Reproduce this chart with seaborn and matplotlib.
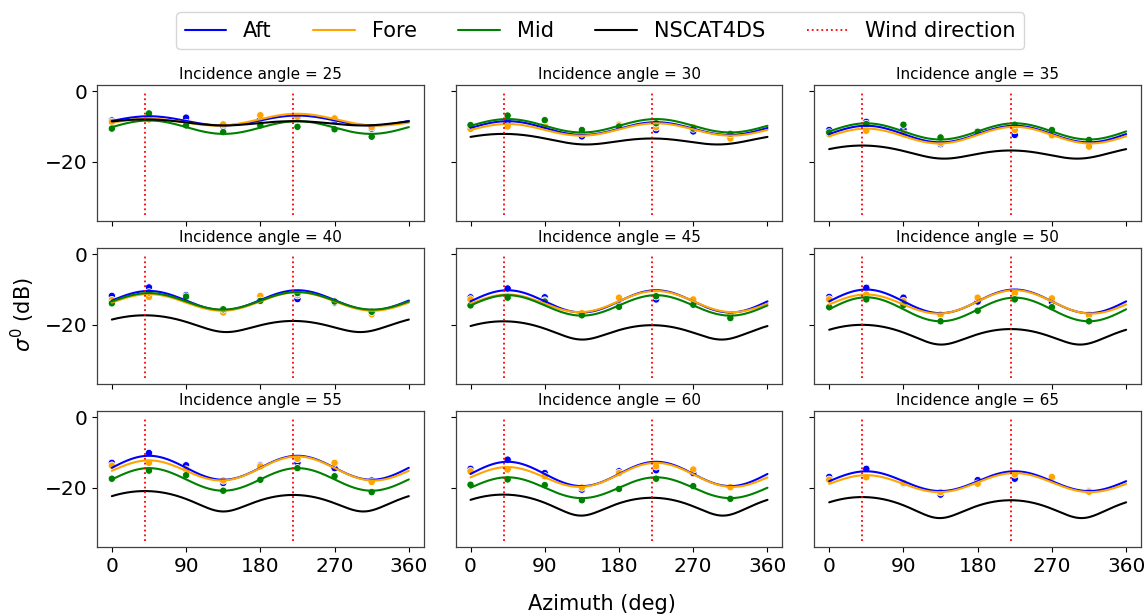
import numpy as np
import pandas as pd
import matplotlib
matplotlib.use("Agg")
import matplotlib.pyplot as plt
from matplotlib.lines import Line2D
import seaborn as sns

# ---------------------------------------------------------------- data
incidence = [25, 30, 35, 40, 45, 50, 55, 60, 65]
azimuth_obs = [0, 45, 90, 135, 180, 225, 270, 315]
wind_direction = [40, 220]

# measured sigma0 (dB) per incidence angle at the azimuths above
aft_obs = [
    [-8.3, -7.4, -7.5, -9.9, -7.8, -7.6, -8.2, -10.6],
    [-10.4, -8.5, -9.3, -12.8, -9.8, -11.0, -11.4, -12.6],
    [-11.0, -8.7, -10.8, -15.0, -11.4, -12.4, -12.3, -14.6],
    [-11.8, -9.4, -11.6, -16.0, -12.8, -12.7, -13.7, -16.4],
    [-12.2, -9.7, -12.2, -17.1, -14.5, -12.8, -14.1, -17.1],
    [-12.1, -9.5, -12.3, -17.3, -13.4, -10.9, -13.6, -17.1],
    [-12.9, -10.1, -13.6, -18.6, -13.6, -12.9, -14.4, -17.9],
    [-14.6, -12.0, -15.8, -20.5, -15.3, -15.0, -15.8, -19.8],
    [-16.9, -14.6, -18.8, -21.9, -17.8, -17.4, -17.2, -20.9],
]
fore_obs = [
    [-8.7, -8.0, -9.0, -9.4, -6.8, -7.3, -7.7, -10.2],
    [-10.7, -10.0, -9.9, -12.0, -9.5, -10.2, -10.2, -13.4],
    [-12.2, -11.2, -12.0, -14.6, -11.3, -11.0, -12.5, -15.7],
    [-13.0, -12.1, -12.5, -16.5, -11.8, -11.6, -13.2, -17.0],
    [-12.8, -11.9, -13.1, -16.7, -12.3, -11.6, -12.8, -17.3],
    [-12.8, -11.4, -13.3, -17.1, -12.3, -11.1, -12.5, -17.3],
    [-13.7, -12.9, -14.8, -17.9, -13.9, -11.8, -12.9, -18.3],
    [-15.3, -14.8, -16.7, -19.9, -15.8, -13.9, -14.8, -19.8],
    [-17.7, -17.0, -18.6, -21.2, -18.8, -16.2, -16.9, -21.1],
]
mid_obs = [
    [-10.6, -6.3, -9.7, -11.6, -9.7, -10.1, -10.8, -12.9],
    [-9.6, -6.9, -8.2, -11.0, -10.0, -9.1, -10.6, -12.1],
    [-11.7, -9.3, -9.5, -13.1, -11.5, -9.5, -11.0, -13.8],
    [-13.9, -10.8, -12.0, -15.6, -13.2, -11.0, -13.4, -16.3],
    [-14.5, -12.3, -13.4, -17.3, -14.9, -11.9, -14.3, -18.1],
    [-15.0, -12.8, -14.4, -19.0, -16.0, -12.8, -15.0, -19.0],
    [-17.4, -15.1, -16.4, -20.8, -17.7, -14.4, -16.7, -21.2],
    [-19.1, -17.6, -19.2, -23.5, -20.3, -17.4, -19.5, -23.1],
    None,
]

# harmonic fits: (upwind, downwind, crosswind) levels in dB
aft_fit = [(-7.1, -6.9, -9.7), (-8.5, -8.8, -12.4), (-9.8, -9.8, -14.5),
           (-10.4, -10.2, -15.8), (-10.2, -10.2, -16.5), (-10.0, -10.0, -16.7),
           (-10.9, -10.9, -17.7), (-12.6, -12.6, -19.5), (-15.3, -15.3, -20.9)]
fore_fit = [(-7.8, -6.4, -9.7), (-9.3, -9.1, -12.6), (-10.6, -10.1, -14.8),
            (-11.3, -10.8, -16.0), (-11.4, -10.4, -16.4), (-11.4, -10.2, -16.8),
            (-12.2, -11.1, -17.9), (-14.1, -12.9, -19.7), (-16.4, -15.8, -21.2)]
mid_fit = [(-8.3, -8.5, -12.1), (-7.9, -7.9, -11.7), (-9.1, -9.1, -13.7),
           (-11.0, -10.7, -15.7), (-11.6, -11.6, -17.4), (-12.2, -12.3, -19.0),
           (-14.4, -14.4, -20.8), (-17.0, -17.0, -22.9), None]
fit_phase = 45

# NSCAT4DS model: (upwind, downwind, crosswind) levels in dB
nscat_levels = [(-8.0, -8.5, -9.7), (-12.1, -13.4, -15.0), (-15.4, -16.8, -19.0),
                (-17.3, -18.9, -21.9), (-19.0, -20.1, -24.1), (-20.0, -21.2, -25.5),
                (-20.9, -22.0, -26.6), (-21.9, -22.8, -27.8), (-22.6, -23.5, -28.5)]

beams = ["Aft", "Fore", "Mid"]
palette = {"Aft": "blue", "Fore": "orange", "Mid": "green", "NSCAT4DS": "black"}

phi = np.linspace(0, 360, 361)


def harmonic_db(levels, phase):
    up, down, cross = levels
    a1 = (up - down) / 2
    a2 = ((up + down) / 2 - cross) / 2
    a0 = ((up + down) / 2 + cross) / 2
    x = np.deg2rad(phi - phase)
    return a0 + a1 * np.cos(x) + a2 * np.cos(2 * x)


def harmonic_linear(levels, phase):
    up, down, cross = (10 ** (v / 10) for v in levels)
    mean_ud = (up + down) / 2
    b0 = (mean_ud + cross) / 2
    b1 = (up - down) / 2 / b0
    b2 = mean_ud / b0 - 1
    x = np.deg2rad(phi - phase)
    return 10 * np.log10(b0 * (1 + b1 * np.cos(x) + b2 * np.cos(2 * x)))


# ---------------------------------------------------------------- tables
obs_rows, curve_rows = [], []
for i, inc in enumerate(incidence):
    for beam, obs, fit in zip(beams, (aft_obs, fore_obs, mid_obs),
                              (aft_fit, fore_fit, mid_fit)):
        if obs[i] is None:
            continue
        for az, s0 in zip(azimuth_obs, obs[i]):
            obs_rows.append((inc, beam, az, s0))
        for az, s0 in zip(phi, harmonic_db(fit[i], fit_phase)):
            curve_rows.append((inc, beam, az, s0))
    for az, s0 in zip(phi, harmonic_linear(nscat_levels[i], wind_direction[0])):
        curve_rows.append((inc, "NSCAT4DS", az, s0))

obs_df = pd.DataFrame(obs_rows, columns=["incidence", "beam", "azimuth", "sigma0"])
curve_df = pd.DataFrame(curve_rows, columns=["incidence", "beam", "azimuth", "sigma0"])

# ---------------------------------------------------------------- figure
sns.set_style("ticks")
plt.rcParams.update({
    "font.family": ["DejaVu Sans"],
    "text.color": "black", "axes.labelcolor": "black",
    "xtick.color": "black", "ytick.color": "black",
    "xtick.major.size": 3.5, "ytick.major.size": 3.5,
    "xtick.major.width": 0.8, "ytick.major.width": 0.8,
    "axes.edgecolor": "0.25", "axes.linewidth": 0.9,
})

fig, axes = plt.subplots(3, 3, figsize=(11.48, 6.16), dpi=100,
                         sharex=True, sharey=True)
fig.subplots_adjust(left=0.0845, right=0.9939, top=0.862, bottom=0.112,
                    wspace=0.098, hspace=0.2)

for ax, inc in zip(axes.flat, incidence):
    pts = obs_df[obs_df.incidence == inc]
    crv = curve_df[curve_df.incidence == inc]
    sns.scatterplot(data=pts, x="azimuth", y="sigma0", hue="beam",
                    palette=palette, s=28, linewidth=0.6, edgecolor="white",
                    legend=False, ax=ax, zorder=2)
    sns.lineplot(data=crv, x="azimuth", y="sigma0", hue="beam",
                 palette=palette, estimator=None, sort=False, lw=1.5,
                 legend=False, ax=ax, zorder=3)
    ax.vlines(wind_direction, -35, 0, colors="red", linestyles=":", lw=1.3,
              zorder=4)
    ax.set_title(f"Incidence angle = {inc}", fontsize=11, pad=4.5,
                 color="black")
    ax.set_xlabel("")
    ax.set_ylabel("")
    ax.set_xticks([0, 90, 180, 270, 360])
    ax.set_yticks([-20, 0])
    ax.tick_params(labelsize=14.5, colors="black")
    ax.set_xlim(-18, 378)
    ax.set_ylim(-36.75, 1.75)

fig.text(0.524, 0.02, "Azimuth (deg)", ha="center", va="center", fontsize=15,
         color="black")
fig.text(0.02, 0.49, r"$\sigma^0$ (dB)", ha="center", va="center",
         rotation=90, fontsize=15, color="black")

handles = [Line2D([], [], color=palette[b], lw=1.5) for b in beams + ["NSCAT4DS"]]
handles.append(Line2D([], [], color="red", ls=":", lw=1.3))
labels = beams + ["NSCAT4DS", "Wind direction"]
leg = fig.legend(handles, labels, loc="center", bbox_to_anchor=(0.5227, 0.95),
                 ncol=5, fontsize=15)
for t in leg.get_texts():
    t.set_color("black")

fig.savefig("out.png", dpi=100)
